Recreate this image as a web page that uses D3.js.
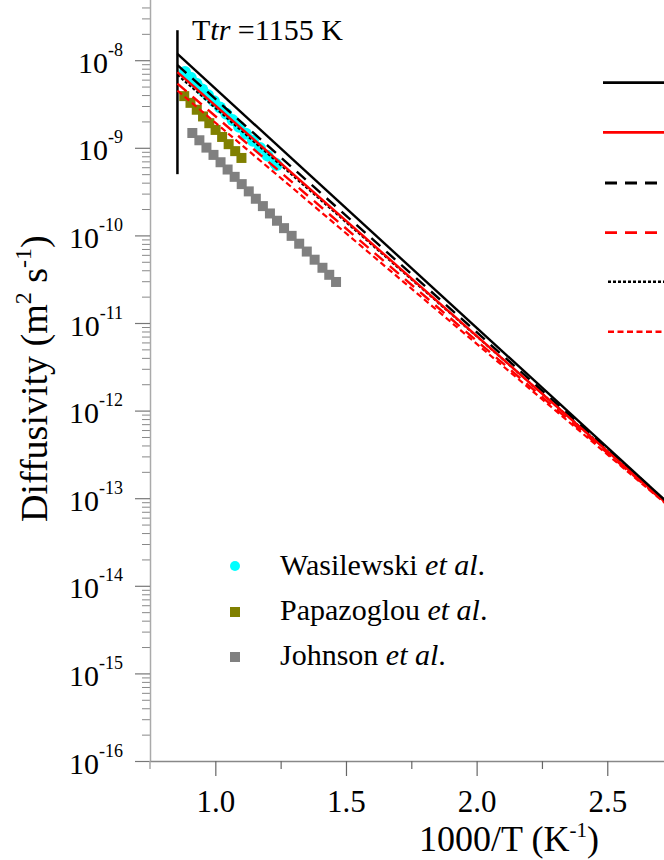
<!DOCTYPE html>
<html><head><meta charset="utf-8">
<script src="https://cdn.jsdelivr.net/npm/d3@7/dist/d3.min.js"></script>
<style>
body{margin:0;background:#fff}
svg{display:block}
text, tspan{font-family:"Liberation Serif","Times New Roman",serif;fill:#000}
</style>
</head><body>
<svg id="chart" width="664" height="860"></svg>
<script>
// ---------- data ----------
const xMajorTicks = [1.0, 1.5, 2.0, 2.5];
const xMinorTicks = [1.25, 1.75, 2.25, 2.75];
const yMajorExps = [-16, -15, -14, -13, -12, -11, -10, -9, -8];

const tTransition = 0.855;          // 1000/T at T_tr = 1155 K
const tTransitionRange = [5.0e-10, 2.2e-8];

// model curves (1000/T, D)
const lineBlackSolid = [[0.855, 1.18e-8], [2.75, 7.9e-14]];
const lineRedSolid   = [[0.855, 7.3e-9],  [2.75, 7.6e-14]];
const lineBlackDash  = [[0.855, 8.8e-9],  [2.75, 7.9e-14]];
const lineRedDash    = [[0.855, 5.4e-9],  [2.75, 7.5e-14]];
const lineBlackDot   = [[0.855, 6.8e-9],  [2.75, 7.8e-14]];
const lineRedShort   = [[0.855, 4.5e-9],  [2.75, 7.4e-14]];

// experimental data
const wasilewskiX = [0.884, 0.906, 0.928, 0.950, 0.972, 0.995, 1.018, 1.042, 1.066, 1.091, 1.117, 1.144, 1.171, 1.200, 1.230, 1.235];
const wasilewskiD = [7.33e-9, 6.29e-9, 5.40e-9, 4.63e-9, 3.97e-9, 3.39e-9, 2.88e-9, 2.44e-9, 2.07e-9, 1.74e-9, 1.45e-9, 1.20e-9, 9.96e-10, 8.14e-10, 6.61e-10, 6.38e-10];

const papazoglouX = [0.881, 0.905, 0.929, 0.953, 0.977, 1.001, 1.026, 1.051, 1.076, 1.100];
const papazoglouD = [3.89e-9, 3.26e-9, 2.72e-9, 2.28e-9, 1.91e-9, 1.60e-9, 1.33e-9, 1.10e-9, 9.16e-10, 7.66e-10];

const johnsonX = [0.912, 0.939, 0.966, 0.993, 1.020, 1.047, 1.074, 1.101, 1.128, 1.155, 1.182, 1.209, 1.236, 1.263, 1.292, 1.321, 1.350, 1.380, 1.410, 1.436, 1.462];
const johnsonD = [1.476e-9, 1.219e-9, 1.005e-9, 8.30e-10, 6.84e-10, 5.65e-10, 4.66e-10, 3.85e-10, 3.18e-10, 2.62e-10, 2.16e-10, 1.78e-10, 1.47e-10, 1.21e-10, 9.88e-11, 8.04e-11, 6.54e-11, 5.28e-11, 4.27e-11, 3.55e-11, 2.94e-11];

const legendLabels = ["Wasilewski", "Papazoglou", "Johnson"];

// ---------- drawing ----------
const FONT = '"Liberation Serif", "Times New Roman", serif';
const svg = d3.select("#chart");
const x = d3.scaleLinear().domain([0.75, 2.75]).range([150, 150 + 2.0 * 261.3]);
const y = d3.scaleLog().domain([1e-16, 1e-7]).range([761, 761 - 9 * 87.6]);

// y axis minor ticks
const yMinor = [];
yMajorExps.forEach(e => { for (let k = 2; k <= 9; k++) yMinor.push(k * Math.pow(10, e)); });
svg.append("g").attr("transform", "translate(150,0)")
  .call(d3.axisLeft(y).tickValues(yMinor).tickSize(8).tickSizeOuter(0).tickFormat(""))
  .call(g => g.select(".domain").remove())
  .call(g => g.selectAll(".tick line").attr("stroke", "#888"));

// y axis major
const gy = svg.append("g").attr("transform", "translate(150,0)")
  .call(d3.axisLeft(y).tickValues(yMajorExps.map(e => Math.pow(10, e))).tickSize(15).tickSizeOuter(0).tickFormat(""));
gy.attr("font-family", FONT).attr("font-size", null);
gy.select(".domain").attr("stroke", "#aaa").attr("stroke-width", 1.5);
gy.selectAll(".tick line").attr("stroke", "#777").attr("stroke-width", 1.2);
gy.selectAll(".tick text").remove();
gy.selectAll(".tick").each(function(d) {
  const e = Math.round(Math.log10(d));
  const t = d3.select(this).append("text")
    .attr("x", -27).attr("y", 12).attr("text-anchor", "end")
    .attr("font-family", FONT).style("font-size", "30px").attr("fill", "#000");
  t.append("tspan").text("10");
  t.append("tspan").attr("dy", -17).style("font-size", "18px").text(String(e));
});
// extension of y axis below x axis
svg.append("line").attr("x1", 150).attr("x2", 150).attr("y1", y(1e-16)).attr("y2", y(1e-16) + 8)
  .attr("stroke", "#aaa").attr("stroke-width", 1.5);

// x axis
const gx = svg.append("g").attr("transform", `translate(0,${y(1e-16)})`)
  .call(d3.axisBottom(x).tickValues(xMajorTicks).tickSize(15).tickSizeOuter(0).tickFormat(d3.format(".1f")));
gx.attr("font-family", FONT).attr("font-size", null);
gx.select(".domain").attr("stroke", "#888").attr("stroke-width", 1.5);
gx.selectAll(".tick line").attr("stroke", "#666").attr("stroke-width", 1.2);
gx.selectAll(".tick text").attr("y", 51).attr("dy", null)
  .attr("font-family", FONT).style("font-size", "31px").attr("fill", "#000");
svg.append("g").attr("transform", `translate(0,${y(1e-16)})`)
  .call(d3.axisBottom(x).tickValues(xMinorTicks).tickSize(8).tickSizeOuter(0).tickFormat(""))
  .call(g => g.select(".domain").remove())
  .call(g => g.selectAll(".tick line").attr("stroke", "#666").attr("stroke-width", 1.2));

// axis titles
const xt = svg.append("text").attr("x", 509).attr("y", 851).attr("text-anchor", "middle").style("font-size", "36px");
xt.append("tspan").text("1000/T (K");
xt.append("tspan").attr("dy", -14).style("font-size", "21px").text("-1");
xt.append("tspan").attr("dy", 14).text(")");

const yt = svg.append("text").attr("transform", "translate(47,522) rotate(-90)").attr("text-anchor", "start").style("font-size", "38px");
yt.append("tspan").text("Diffusivity (m");
yt.append("tspan").attr("dy", -16).style("font-size", "24px").text("2");
yt.append("tspan").attr("dy", 16).text(" s");
yt.append("tspan").attr("dy", -16).style("font-size", "24px").text("-1");
yt.append("tspan").attr("dy", 16).text(")");

// transition line
svg.append("line").attr("x1", x(tTransition)).attr("x2", x(tTransition))
  .attr("y1", y(tTransitionRange[0])).attr("y2", y(tTransitionRange[1]))
  .attr("stroke", "#000").attr("stroke-width", 2.5);
const tl = svg.append("text").attr("x", 192).attr("y", 40).style("font-size", "30px");
tl.append("tspan").text("T");
tl.append("tspan").style("font-style", "italic").text("tr");
tl.append("tspan").text(" =1155 K");

// experimental points (drawn under the model lines)
svg.append("g").selectAll("rect.j").data(johnsonX).join("rect")
  .attr("x", (d, i) => x(d) - 5).attr("y", (d, i) => y(johnsonD[i]) - 5)
  .attr("width", 10).attr("height", 10).attr("fill", "#808080");
svg.append("g").selectAll("rect.p").data(papazoglouX).join("rect")
  .attr("x", (d, i) => x(d) - 5).attr("y", (d, i) => y(papazoglouD[i]) - 5)
  .attr("width", 10).attr("height", 10).attr("fill", "#808000");
svg.append("g").selectAll("circle").data(wasilewskiX).join("circle")
  .attr("cx", d => x(d)).attr("cy", (d, i) => y(wasilewskiD[i])).attr("r", 6).attr("fill", "#00ffff");

// model lines
const lineGen = d3.line().x(d => x(d[0])).y(d => y(d[1]));
const styles = [
  {data: lineBlackDot,   color: "#000", dash: "3,2",  w: 2,   ly: 281.7, lx: 608},
  {data: lineRedShort,   color: "#f00", dash: "6,3.5",w: 2.2, ly: 331.7, lx: 608},
  {data: lineRedDash,    color: "#f00", dash: "12,8", w: 2.4, ly: 232.7, lx: 605},
  {data: lineBlackDash,  color: "#000", dash: "12,8", w: 2.4, ly: 183,   lx: 605},
  {data: lineRedSolid,   color: "#f00", dash: null,   w: 2.4, ly: 132.3, lx: 603},
  {data: lineBlackSolid, color: "#000", dash: null,   w: 2.4, ly: 82.7,  lx: 603}
];
styles.forEach(s => {
  svg.append("path").attr("d", lineGen(s.data)).attr("fill", "none")
    .attr("stroke", s.color).attr("stroke-width", s.w).attr("stroke-dasharray", s.dash);
  svg.append("line").attr("x1", s.lx).attr("x2", 700).attr("y1", s.ly).attr("y2", s.ly)
    .attr("stroke", s.color).attr("stroke-width", s.w + 0.4).attr("stroke-dasharray", s.dash);
});

// legend for experiments
svg.append("circle").attr("cx", 235).attr("cy", 566).attr("r", 5).attr("fill", "#00ffff");
svg.append("rect").attr("x", 230).attr("y", 607).attr("width", 10).attr("height", 10).attr("fill", "#808000");
svg.append("rect").attr("x", 230).attr("y", 652).attr("width", 10).attr("height", 10).attr("fill", "#808080");
const ly = [575, 620, 665];
legendLabels.forEach((name, i) => {
  const t = svg.append("text").attr("x", 280).attr("y", ly[i]).style("font-size", "30px");
  t.append("tspan").text(name + " ");
  t.append("tspan").style("font-style", "italic").text("et al");
  t.append("tspan").text(".");
});
</script>
</body></html>
